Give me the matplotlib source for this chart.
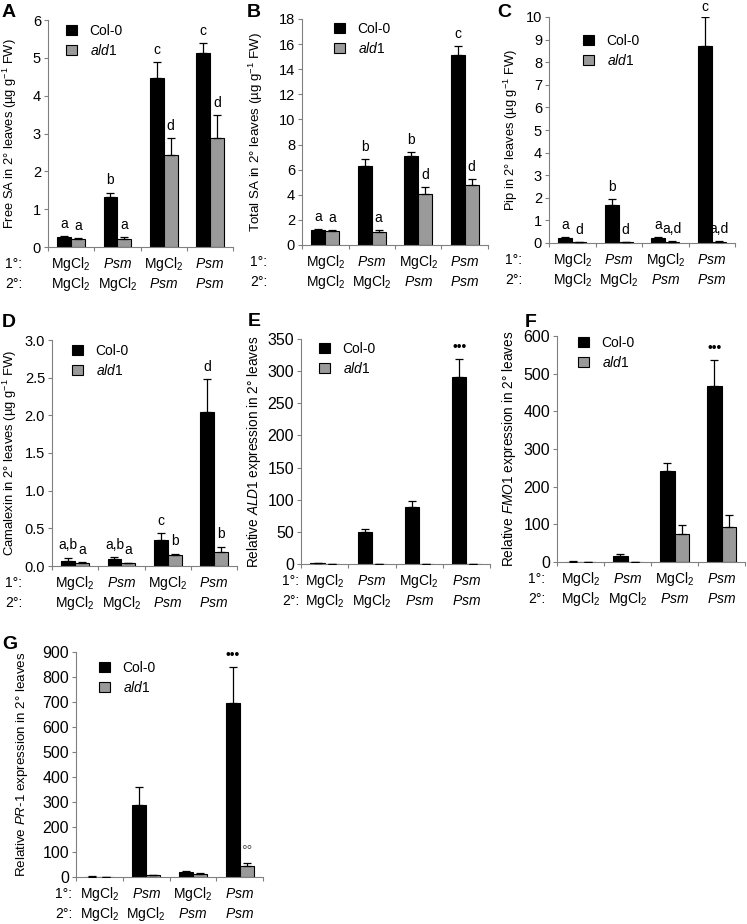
import numpy as np
import matplotlib
matplotlib.use('Agg')
import matplotlib.pyplot as plt

plt.rcParams['font.family'] = ['Liberation Sans', 'DejaVu Sans']
plt.rcParams['mathtext.fontset'] = 'custom'
plt.rcParams['mathtext.rm'] = 'Liberation Sans'
plt.rcParams['mathtext.it'] = 'Liberation Sans:italic'
plt.rcParams['mathtext.bf'] = 'Liberation Sans:bold'

# treatments (1st / 2nd inoculation)
first = ['MgCl$_2$', '$\\mathit{Psm}$', 'MgCl$_2$', '$\\mathit{Psm}$']
second = ['MgCl$_2$', 'MgCl$_2$', '$\\mathit{Psm}$', '$\\mathit{Psm}$']

# A free SA
freesa_col = [0.27, 1.33, 4.48, 5.13]
freesa_col_err = [0.02, 0.11, 0.40, 0.26]
freesa_ald = [0.21, 0.21, 2.42, 2.87]
freesa_ald_err = [0.03, 0.05, 0.45, 0.62]
freesa_lab_col = ['a', 'b', 'c', 'c']
freesa_lab_ald = ['a', 'a', 'd', 'd']

# B total SA
totsa_col = [1.20, 6.28, 7.12, 15.15]
totsa_col_err = [0.07, 0.55, 0.30, 0.70]
totsa_ald = [1.08, 1.05, 4.08, 4.80]
totsa_ald_err = [0.10, 0.15, 0.50, 0.45]
totsa_lab_col = ['a', 'b', 'b', 'c']
totsa_lab_ald = ['a', 'a', 'd', 'd']

# C Pip
pip_col = [0.20, 1.68, 0.22, 8.70]
pip_col_err = [0.07, 0.25, 0.05, 1.28]
pip_ald = [0.04, 0.03, 0.06, 0.05]
pip_ald_err = [0.01, 0.01, 0.02, 0.03]
pip_lab_col = ['a', 'b', 'a', 'c']
pip_lab_ald = ['d', 'd', 'a,d', 'a,d']

# D camalexin
cam_col = [0.065, 0.095, 0.34, 2.05]
cam_col_err = [0.045, 0.025, 0.10, 0.43]
cam_ald = [0.045, 0.035, 0.14, 0.19]
cam_ald_err = [0.01, 0.01, 0.025, 0.065]
cam_lab_col = ['a,b', 'a,b', 'c', 'd']
cam_lab_ald = ['a', 'a', 'b', 'b']

# E ALD1
ald1_col = [1.0, 50, 88, 291]
ald1_col_err = [0.4, 5, 10, 28]
ald1_ald = [0.3, 0.3, 0.3, 0.3]
ald1_ald_err = [0, 0, 0, 0]
ald1_lab_col = ['', '', '', '•••']
ald1_lab_ald = ['', '', '', '']

# F FMO1
fmo1_col = [1.0, 17, 241, 468]
fmo1_col_err = [0.5, 3, 23, 68]
fmo1_ald = [0.5, 1.0, 74, 93]
fmo1_ald_err = [0.2, 0.3, 23, 33]
fmo1_lab_col = ['', '', '', '•••']
fmo1_lab_ald = ['', '', '', '']

# G PR-1
pr1_col = [2, 287, 21, 697]
pr1_col_err = [1, 75, 5, 142]
pr1_ald = [1, 8, 13, 46]
pr1_ald_err = [0.5, 2, 5, 9]
pr1_lab_col = ['', '', '', '•••']
pr1_lab_ald = ['', '', '', '°°']

W, H = 747, 924
fig = plt.figure(figsize=(W / 100, H / 100), dpi=100)


def fx(px):
    return px / W


def fy(py):
    return 1 - py / H


panels = [
    # letter, (left, right, top, bottom) px, data, ymax, ticks, fmt, tick size, ylabel, ylabel size, ylabel x px,
    # legend px, letter px, row-label x
    ('A', (48, 233, 20, 247), (freesa_col, freesa_col_err, freesa_ald, freesa_ald_err, freesa_lab_col, freesa_lab_ald),
     6, np.arange(0, 7, 1), '{:.0f}', 10.5, 'Free SA in 2° leaves (µg g$^{-1}$ FW)', 9.3, 12, (66, 24), (2, 4), 5),
    ('B', (302, 488, 19, 245), (totsa_col, totsa_col_err, totsa_ald, totsa_ald_err, totsa_lab_col, totsa_lab_ald),
     18, np.arange(0, 19, 2), '{:.0f}', 10.5, 'Total SA in 2° leaves (µg g$^{-1}$ FW)', 9.6, 258, (334, 22), (247, 4), 250),
    ('C', (549, 735, 17, 243), (pip_col, pip_col_err, pip_ald, pip_ald_err, pip_lab_col, pip_lab_ald),
     10, np.arange(0, 11, 1), '{:.0f}', 10.5, 'Pip in 2° leaves (µg g$^{-1}$ FW)', 9.3, 513, (583, 34), (497, 4), 505),
    ('D', (52, 237, 340, 566), (cam_col, cam_col_err, cam_ald, cam_ald_err, cam_lab_col, cam_lab_ald),
     3, np.arange(0, 3.01, 0.5), '{:.1f}', 10.5, 'Camalexin in 2° leaves (µg g$^{-1}$ FW)', 9.4, 12, (72, 344), (2, 314), 5),
    ('E', (301, 490, 339, 564), (ald1_col, ald1_col_err, ald1_ald, ald1_ald_err, ald1_lab_col, ald1_lab_ald),
     350, np.arange(0, 351, 50), '{:.0f}', 11.5, 'Relative $\\mathit{ALD1}$ expression in 2° leaves', 9.8, 256, (319, 342), (248, 313), 282),
    ('F', (557, 745, 336, 562), (fmo1_col, fmo1_col_err, fmo1_ald, fmo1_ald_err, fmo1_lab_col, fmo1_lab_ald),
     600, np.arange(0, 601, 100), '{:.0f}', 11.5, 'Relative $\\mathit{FMO1}$ expression in 2° leaves', 9.8, 511, (578, 336), (525, 314), 528),
    ('G', (76, 263, 652, 877), (pr1_col, pr1_col_err, pr1_ald, pr1_ald_err, pr1_lab_col, pr1_lab_ald),
     900, np.arange(0, 901, 100), '{:.0f}', 11.5, 'Relative $\\mathit{PR}$-$\\mathit{1}$ expression in 2° leaves', 9.6, 23, (99, 661), (2, 636), 55),
]

spine_c = '#808080'
x = np.arange(4) + 0.5
w = 0.3

for (letter, (l, r, t, b), data, ymax, ticks, fmt, tsize, ylabel, lsize, lx,
     legpos, letpos, rowx) in panels:
    col, col_err, ald, ald_err, lab_col, lab_ald = data
    ax = fig.add_axes([fx(l), fy(b), fx(r - l), (b - t) / H])
    b1 = ax.bar(x - w / 2, col, w, color='black', edgecolor='black', linewidth=0.8, label='Col-0', zorder=2)
    b2 = ax.bar(x + w / 2, ald, w, color='#9a9a9a', edgecolor='black', linewidth=0.8, label='$\\mathit{ald1}$', zorder=2)
    ax.errorbar(x - w / 2, col, yerr=[np.zeros(4), col_err], fmt='none', ecolor='black',
                elinewidth=0.9, capsize=3, capthick=0.9, zorder=3)
    ax.errorbar(x + w / 2, ald, yerr=[np.zeros(4), ald_err], fmt='none', ecolor='black',
                elinewidth=0.9, capsize=3, capthick=0.9, zorder=3)
    # significance letters just above each error bar (kept inside the figure)
    for xs, vals, errs, labs in [(x - w / 2, col, col_err, lab_col), (x + w / 2, ald, ald_err, lab_ald)]:
        for xi, v, e, s in zip(xs, vals, errs, labs):
            if not s:
                continue
            top_px = t + (ymax - (v + e)) / ymax * (b - t)
            off = min(6, (top_px - 11) * 0.72)
            ax.annotate(s, (xi, v + e), xytext=(0, off), textcoords='offset points',
                        ha='center', va='baseline', fontsize=10,
                        color='#555555' if s == '°°' else 'black')
    ax.set_xlim(0, 4)
    ax.set_ylim(0, ymax)
    ax.set_yticks(ticks)
    ax.set_yticklabels([fmt.format(v) for v in ticks], fontsize=tsize)
    ax.set_xticks(np.arange(5))
    ax.set_xticklabels([])
    ax.tick_params(axis='both', direction='out', length=3, width=0.8, color=spine_c, pad=2)
    for s in ['top', 'right']:
        ax.spines[s].set_visible(False)
    for s in ['left', 'bottom']:
        ax.spines[s].set_color(spine_c)
        ax.spines[s].set_linewidth(0.8)
    ax.set_ylabel(ylabel, fontsize=lsize)
    ax.yaxis.set_label_coords((lx + 7 - l) / (r - l), 0.5)
    for xi, s1, s2 in zip(x, first, second):
        ax.annotate(s1, (xi, 0), xycoords=('data', 'axes fraction'), xytext=(0, -21 * 0.72),
                    textcoords='offset points', ha='center', va='baseline', fontsize=10)
        ax.annotate(s2, (xi, 0), xycoords=('data', 'axes fraction'), xytext=(0, -41 * 0.72),
                    textcoords='offset points', ha='center', va='baseline', fontsize=10)
    fig.text(fx(rowx), fy(b + 21), '1°:', fontsize=10, va='baseline')
    fig.text(fx(rowx), fy(b + 41), '2°:', fontsize=10, va='baseline')
    ax.legend(handles=[b1, b2], loc='upper left', bbox_to_anchor=(fx(legpos[0]), fy(legpos[1])),
              bbox_transform=fig.transFigure, frameon=False, fontsize=10, handlelength=0.8,
              handleheight=0.8, handletextpad=0.9, labelspacing=0.35, borderpad=0, borderaxespad=0)
    fig.text(fx(letpos[0]), fy(letpos[1]), letter, fontsize=14, fontweight='bold', va='top', ha='left')

fig.savefig('out.png', dpi=100)
